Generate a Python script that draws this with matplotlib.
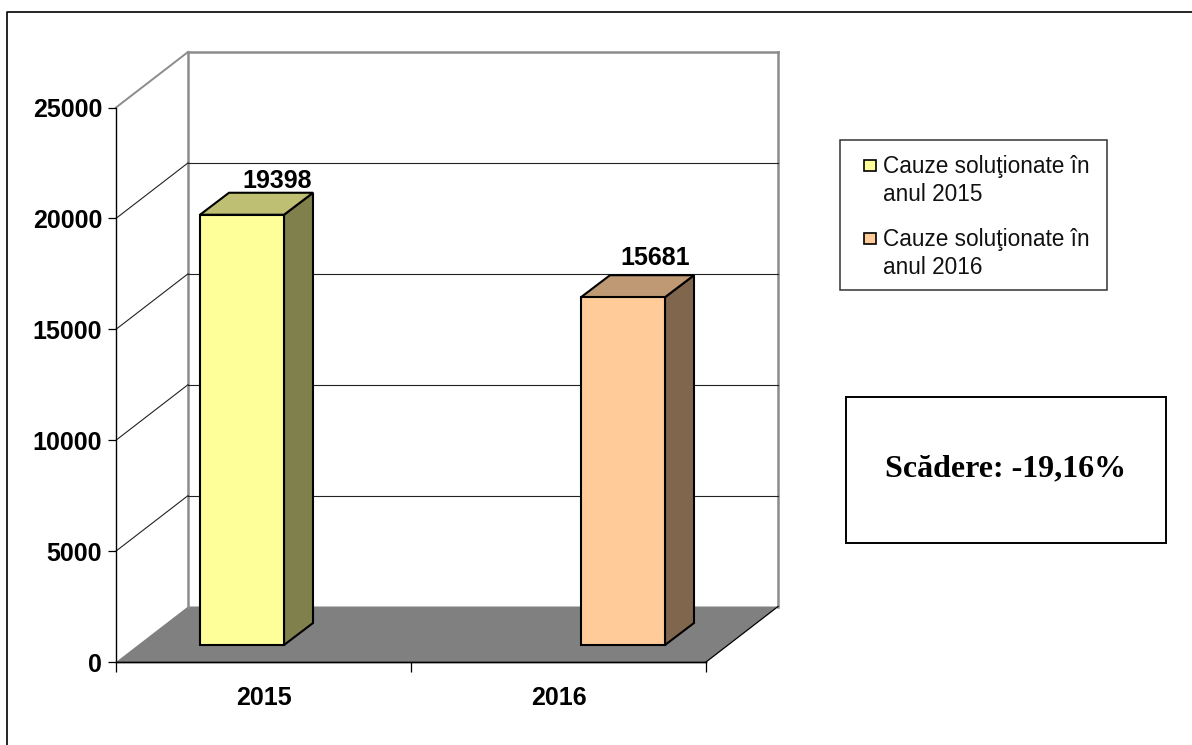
import matplotlib
matplotlib.use('Agg')
import matplotlib.pyplot as plt
from matplotlib.patches import Polygon, Rectangle

# data
years = ['2015', '2016']
values = [19398, 15681]
legend_labels = ['Cauze soluţionate în\nanul 2015', 'Cauze soluţionate în\nanul 2016']
y_ticks = [0, 5000, 10000, 15000, 20000, 25000]
note = 'Scădere: -19,16%'

W, H = 1192, 745
plt.rcParams['font.family'] = ['Liberation Sans', 'DejaVu Sans']
fig = plt.figure(figsize=(W / 100, H / 100), dpi=100)

# overlay in pixel units for the boxes around the chart
ov = fig.add_axes([0, 0, 1, 1])
ov.set_xlim(0, W)
ov.set_ylim(H, 0)
ov.axis('off')

# front plane of the 3d chart: 116..706 px wide, 107.5..662 px down
ax = fig.add_axes([116 / W, 1 - 662 / H, 590 / W, 554.5 / H])
ax.set_xlim(0, 2)
ax.set_ylim(0, 25000)
ax.patch.set_visible(False)
for s in ['top', 'right']:
    ax.spines[s].set_visible(False)
for s in ['left', 'bottom']:
    ax.spines[s].set_linewidth(1.0)
    ax.spines[s].set_color('black')

px_x = 2 / 590
px_y = 25000 / 554.5
dx, dy = 72 * px_x, 55.5 * px_y      # depth of the walls
bdx, bdy = 29 * px_x, 22 * px_y      # depth of a bar
base = 17 * px_y                     # bars stand back from the front edge
bar_w = 84 * px_x
bar_left = [84 * px_x, 465 * px_x]
label_x = [161 * px_x, 539 * px_x]
label_gap = [27 * px_y, 32 * px_y]

GRAY = '#8c8c8c'
# floor
ax.add_patch(Polygon([(0, 0), (2, 0), (2 + dx, dy), (dx, dy)], closed=True, fc='#808080', ec='none',
                     clip_on=False, zorder=1))
ax.plot([2, 2 + dx], [0, dy], color='black', lw=0.9, clip_on=False, zorder=2)
ax.plot([0, 2], [0, 0], color='black', lw=1.0, clip_on=False, zorder=2)

# walls
ax.plot([dx, dx], [dy, 25000 + dy], color=GRAY, lw=1.8, clip_on=False, zorder=1.5)
ax.plot([2 + dx, 2 + dx], [dy, 25000 + dy], color=GRAY, lw=1.8, clip_on=False, zorder=1.5)
for t in y_ticks[1:]:
    top = t == y_ticks[-1]
    c = GRAY if top else '#222222'
    ax.plot([0, dx], [t, t + dy], color=c, lw=1.4 if top else 0.8, clip_on=False, zorder=1.5)
    ax.plot([dx, 2 + dx], [t + dy, t + dy], color=c, lw=1.8 if top else 0.8, clip_on=False, zorder=1.5)

# bars
front = ['#FFFF99', '#FFCC99']
top_c = ['#BFBF73', '#BF9973']
side = ['#80804D', '#80664D']
for i, v in enumerate(values):
    x0 = bar_left[i]
    x1 = x0 + bar_w
    y0 = base
    y1 = base + v
    ax.add_patch(Polygon([(x1, y0), (x1 + bdx, y0 + bdy), (x1 + bdx, y1 + bdy), (x1, y1)], closed=True,
                         fc=side[i], ec='black', lw=1.5, clip_on=False, zorder=3))
    ax.add_patch(Polygon([(x0, y1), (x1, y1), (x1 + bdx, y1 + bdy), (x0 + bdx, y1 + bdy)], closed=True,
                         fc=top_c[i], ec='black', lw=1.5, clip_on=False, zorder=3))
    ax.add_patch(Rectangle((x0, y0), bar_w, v, fc=front[i], ec='black', lw=1.5, clip_on=False, zorder=4))
    ax.text(label_x[i], y1 + label_gap[i], str(v), ha='center', va='baseline', fontsize=18, fontweight='bold',
            zorder=5)

# axes ticks
ax.set_yticks(y_ticks)
ax.tick_params(axis='y', length=6, width=0.9, pad=4, labelsize=18)
for lab in ax.get_yticklabels():
    lab.set_fontweight('bold')
ax.set_xticks([0, 1, 2])
ax.set_xticklabels([])
ax.tick_params(axis='x', which='major', length=7, width=0.9, direction='out')
ax.set_xticks([0.5, 1.5], minor=True)
ax.set_xticklabels(years, minor=True, fontsize=18, fontweight='bold')
ax.tick_params(axis='x', which='minor', length=0, pad=17)

# outer frame, only top and left are visible in the picture
ov.plot([7, 7, W], [H, 11.5, 11.5], color='black', lw=1.2)

# legend box, swatch sits on the first line of each wrapped label
ov.add_patch(Rectangle((839.5, 140), 267.5, 150, fc='white', ec='#333333', lw=1.1))
leg_y = [165, 238]
for i, lab in enumerate(legend_labels):
    ov.add_patch(Rectangle((863.5, leg_y[i] - 5.5), 12, 11, fc=front[i], ec='black', lw=1.2))
    ov.text(883, leg_y[i] + 15.5, lab, ha='left', va='center', fontsize=16.3, linespacing=1.31, color='#111111')

# note box
ov.add_patch(Rectangle((846, 397), 320, 146, fc='white', ec='black', lw=1.4))
ov.text(1006, 469, note, ha='center', va='center', fontsize=23, fontweight='bold', family='Liberation Serif')

fig.savefig('out.png', dpi=100, facecolor='white')
